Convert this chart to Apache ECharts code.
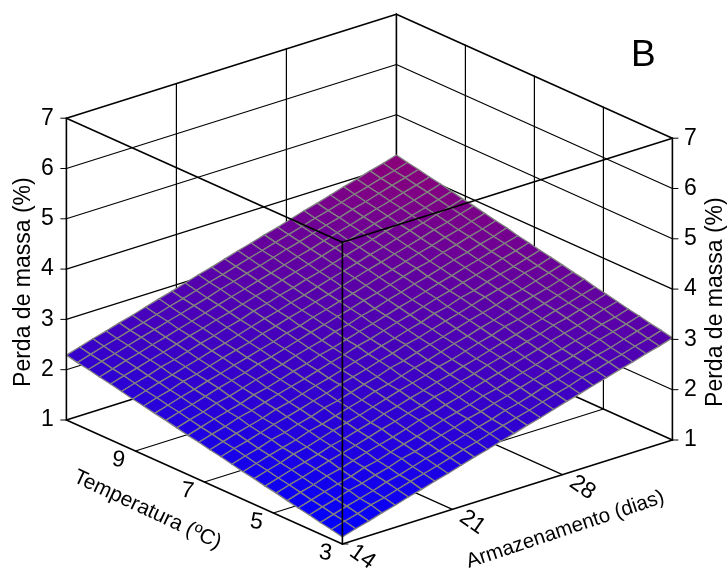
<!DOCTYPE html>
<html>
<head>
<meta charset="utf-8">
<style>html,body{margin:0;padding:0;background:#fff}#c{width:728px;height:575px}</style>
<script src="https://cdn.jsdelivr.net/npm/echarts@6/dist/echarts.min.js"></script>
</head>
<body>
<div id="c"></div>
<script>
// tick labels
const tempTicks = [3, 5, 7, 9];
const dayTicks = [14, 21, 28];
const massTicks = [1, 2, 3, 4, 5, 6, 7];
// axis ranges
const tempRange = [3, 11];
const dayRange = [14, 35];
// mesh positions
const tempGrid = [3,3.32,3.64,3.96,4.28,4.6,4.92,5.24,5.56,5.88,6.2,6.52,6.84,7.16,7.48,7.8,8.12,8.44,8.76,9.08,9.4,9.72,10.04,10.36,10.68,11];
const dayGrid = [14,14.84,15.68,16.52,17.36,18.2,19.04,19.88,20.72,21.56,22.4,23.24,24.08,24.92,25.76,26.6,27.44,28.28,29.12,29.96,30.8,31.64,32.48,33.32,34.16,35];
// mass loss (%) : one row per temperature, one column per storage day
const massLoss = [
[1.14,1.22,1.29,1.37,1.44,1.52,1.59,1.67,1.74,1.82,1.90,1.97,2.05,2.12,2.20,2.27,2.35,2.43,2.50,2.58,2.65,2.73,2.80,2.88,2.95,3.03],
[1.19,1.27,1.34,1.43,1.49,1.57,1.65,1.72,1.79,1.87,1.95,2.02,2.10,2.18,2.25,2.32,2.40,2.48,2.55,2.64,2.70,2.78,2.85,2.93,3.00,3.08],
[1.23,1.31,1.39,1.46,1.53,1.62,1.68,1.76,1.84,1.91,1.99,2.07,2.14,2.21,2.30,2.36,2.44,2.53,2.59,2.67,2.75,2.82,2.89,2.97,3.05,3.12],
[1.28,1.36,1.43,1.52,1.58,1.66,1.73,1.82,1.88,1.96,2.04,2.11,2.20,2.26,2.34,2.41,2.49,2.57,2.65,2.72,2.79,2.87,2.95,3.02,3.09,3.17],
[1.32,1.40,1.48,1.55,1.62,1.71,1.77,1.85,1.93,2.00,2.08,2.16,2.23,2.30,2.39,2.45,2.53,2.61,2.68,2.77,2.83,2.91,2.98,3.07,3.13,3.21],
[1.37,1.45,1.52,1.61,1.67,1.75,1.83,1.90,1.97,2.05,2.14,2.20,2.28,2.35,2.43,2.51,2.58,2.66,2.73,2.81,2.89,2.96,3.03,3.11,3.19,3.26],
[1.42,1.50,1.57,1.65,1.73,1.80,1.87,1.95,2.03,2.10,2.18,2.25,2.34,2.40,2.48,2.55,2.64,2.71,2.78,2.86,2.93,3.02,3.08,3.16,3.23,3.31],
[1.46,1.54,1.62,1.69,1.76,1.85,1.91,1.99,2.06,2.15,2.22,2.30,2.37,2.45,2.52,2.60,2.67,2.75,2.83,2.90,2.98,3.05,3.13,3.20,3.28,3.35],
[1.51,1.59,1.66,1.75,1.81,1.89,1.97,2.04,2.11,2.19,2.27,2.35,2.42,2.49,2.58,2.64,2.72,2.80,2.87,2.96,3.02,3.10,3.17,3.25,3.32,3.41],
[1.55,1.63,1.71,1.78,1.85,1.94,2.00,2.08,2.16,2.23,2.32,2.38,2.46,2.54,2.61,2.69,2.77,2.84,2.92,2.99,3.07,3.15,3.22,3.29,3.37,3.45],
[1.60,1.68,1.75,1.84,1.90,1.98,2.05,2.14,2.20,2.28,2.36,2.43,2.52,2.58,2.66,2.74,2.81,2.89,2.97,3.04,3.11,3.20,3.26,3.34,3.42,3.50],
[1.65,1.73,1.80,1.88,1.96,2.03,2.10,2.18,2.25,2.34,2.41,2.48,2.56,2.63,2.72,2.78,2.86,2.94,3.01,3.09,3.17,3.24,3.31,3.40,3.46,3.55],
[1.69,1.77,1.85,1.92,1.99,2.08,2.14,2.22,2.30,2.37,2.45,2.53,2.60,2.68,2.75,2.83,2.90,2.99,3.05,3.14,3.20,3.29,3.36,3.43,3.51,3.59],
[1.74,1.82,1.89,1.98,2.04,2.12,2.20,2.27,2.34,2.42,2.50,2.57,2.66,2.72,2.80,2.88,2.95,3.03,3.11,3.18,3.26,3.33,3.41,3.49,3.56,3.64],
[1.78,1.86,1.94,2.01,2.08,2.17,2.23,2.31,2.39,2.46,2.55,2.61,2.69,2.77,2.84,2.92,3.00,3.07,3.15,3.23,3.30,3.38,3.45,3.53,3.61,3.68],
[1.83,1.91,1.98,2.07,2.13,2.21,2.29,2.36,2.43,2.52,2.59,2.66,2.75,2.81,2.90,2.96,3.05,3.12,3.20,3.27,3.35,3.43,3.50,3.58,3.65,3.74],
[1.88,1.96,2.03,2.11,2.19,2.26,2.33,2.42,2.48,2.56,2.64,2.72,2.79,2.87,2.94,3.02,3.09,3.17,3.25,3.33,3.39,3.48,3.55,3.63,3.70,3.78],
[1.92,2.00,2.08,2.15,2.23,2.30,2.38,2.45,2.53,2.60,2.69,2.75,2.84,2.91,2.99,3.06,3.14,3.22,3.29,3.37,3.45,3.52,3.60,3.67,3.75,3.83],
[1.97,2.05,2.12,2.21,2.27,2.35,2.43,2.50,2.57,2.66,2.73,2.81,2.88,2.96,3.03,3.11,3.19,3.27,3.34,3.42,3.49,3.57,3.65,3.72,3.80,3.88],
[2.01,2.09,2.17,2.24,2.32,2.39,2.47,2.54,2.62,2.70,2.78,2.85,2.93,3.00,3.08,3.16,3.23,3.31,3.39,3.46,3.54,3.62,3.69,3.77,3.84,3.92],
[2.06,2.14,2.21,2.30,2.36,2.44,2.52,2.59,2.67,2.74,2.83,2.90,2.98,3.05,3.13,3.20,3.28,3.36,3.44,3.51,3.59,3.66,3.74,3.81,3.89,3.97],
[2.11,2.19,2.26,2.34,2.41,2.49,2.57,2.64,2.72,2.79,2.87,2.95,3.02,3.10,3.18,3.25,3.33,3.41,3.48,3.56,3.64,3.71,3.79,3.86,3.94,4.02],
[2.15,2.23,2.31,2.38,2.46,2.53,2.61,2.68,2.76,2.84,2.92,2.99,3.07,3.14,3.22,3.30,3.37,3.45,3.53,3.60,3.68,3.76,3.83,3.91,3.98,4.06],
[2.20,2.28,2.35,2.43,2.51,2.58,2.66,2.73,2.81,2.88,2.97,3.04,3.12,3.19,3.27,3.35,3.42,3.50,3.58,3.65,3.73,3.80,3.88,3.96,4.03,4.11],
[2.24,2.32,2.40,2.47,2.55,2.62,2.70,2.78,2.85,2.93,3.01,3.08,3.16,3.24,3.31,3.39,3.46,3.54,3.62,3.69,3.77,3.85,3.92,4.00,4.07,4.15],
[2.29,2.37,2.45,2.52,2.60,2.67,2.75,2.83,2.90,2.98,3.06,3.13,3.21,3.29,3.36,3.44,3.51,3.59,3.67,3.74,3.82,3.90,3.97,4.05,4.12,4.20]
];

// view of the 3D box: screen position of the front-bottom corner and of one full axis run
const VIEW = { ox: 342.4, oy: 544, tx: -276, ty: -124, dx: 330, dy: -104, zUnit: -50.3 };
const zMin = massTicks[0], zMax = massTicks[massTicks.length - 1];
function project(t, d, z) {
  const a = (t - tempRange[0]) / (tempRange[1] - tempRange[0]);
  const b = (d - dayRange[0]) / (dayRange[1] - dayRange[0]);
  return [VIEW.ox + a * VIEW.tx + b * VIEW.dx, VIEW.oy + a * VIEW.ty + b * VIEW.dy + (z - zMin) * VIEW.zUnit];
}
const T0 = tempRange[0], T1 = tempRange[1], D0 = dayRange[0], D1 = dayRange[1];
const days = dayTicks.slice(1);

// back walls and floor: inner grid lines
const backLines = [];
massTicks.forEach(z => {
  if (z !== zMin && z !== zMax) backLines.push([T1, D0, z, T1, D1, z], [T1, D1, z, T0, D1, z]);
});
days.forEach(d => backLines.push([T1, d, zMin, T1, d, zMax], [T1, d, zMin, T0, d, zMin]));
tempTicks.forEach(t => {
  if (t !== T0) backLines.push([t, D1, zMin, t, D1, zMax], [t, D1, zMin, t, D0, zMin]);
});
// back walls and floor: outline
const backEdges = [
  [T1, D1, zMin, T1, D1, zMax], [T1, D0, zMin, T1, D1, zMin], [T1, D1, zMin, T0, D1, zMin],
  [T1, D0, zMax, T1, D1, zMax], [T1, D1, zMax, T0, D1, zMax]
];

// box edges in front of the surface
const frontLines = [
  [T0, D0, zMin, T0, D0, zMax], [T1, D0, zMin, T1, D0, zMax], [T0, D1, zMin, T0, D1, zMax],
  [T1, D0, zMax, T0, D0, zMax], [T0, D0, zMax, T0, D1, zMax],
  [T1, D0, zMin, T0, D0, zMin], [T0, D0, zMin, T0, D1, zMin]
];

// surface cells, far corner first
const cells = [];
for (let i = tempGrid.length - 2; i >= 0; i--) {
  for (let j = dayGrid.length - 2; j >= 0; j--) cells.push([i, j]);
}
const zLo = massLoss[0][0], zHi = massLoss[massLoss.length - 1][dayGrid.length - 1];
const ramp = ['#0000ff', '#8c0078'];

const lineItem = width => (params, api) => {
  const a = project(api.value(0), api.value(1), api.value(2));
  const b = project(api.value(3), api.value(4), api.value(5));
  const p = api.coord(a), q = api.coord(b);
  return { type: 'line', shape: { x1: p[0], y1: p[1], x2: q[0], y2: q[1] }, style: { stroke: '#000', lineWidth: width, lineCap: 'round' }, silent: true };
};

function surfaceItem(params, api) {
  const i = api.value(0), j = api.value(1);
  const corners = [[i, j], [i + 1, j], [i + 1, j + 1], [i, j + 1]];
  let sum = 0;
  const pts = corners.map(c => {
    const z = massLoss[c[0]][c[1]];
    sum += z;
    return api.coord(project(tempGrid[c[0]], dayGrid[c[1]], z));
  });
  const t = Math.min(1, Math.max(0, (sum / 4 - zLo) / (zHi - zLo)));
  return { type: 'polygon', shape: { points: pts }, style: { fill: echarts.color.lerp(t, ramp), stroke: '#808080', lineWidth: 1.3, lineJoin: 'round' }, silent: true };
}

// tick marks
const ticksData = [];
massTicks.forEach(z => ticksData.push([T1, D0, z, -6, 0], [T0, D1, z, 6, 0]));
ticksData.push([T0, D0, zMin, 6, 0]);
function tickItem(params, api) {
  const p = api.coord(project(api.value(0), api.value(1), api.value(2)));
  return { type: 'line', shape: { x1: p[0], y1: p[1], x2: p[0] + api.value(3), y2: p[1] + api.value(4) }, style: { stroke: '#000', lineWidth: 1 }, silent: true };
}

// text labels: [text, anchor temp, anchor day, anchor z, offset x, offset y, rotation deg, size]
const FONT = '"Liberation Sans", Arial, sans-serif';
const labels = [];
massTicks.forEach(z => {
  labels.push([String(z), T1, D0, z, -19, 0, 0, 23]);
  labels.push([String(z), T0, D1, z, 18, 0, 0, 23]);
});
tempTicks.forEach(t => labels.push([String(t), t, D0, zMin, -17, 9, -8, 23]));
dayTicks.forEach(d => labels.push([String(d), T0, d, zMin, 20, 13, -35, 23]));
labels.push(['Temperatura (ºC)', 7, D0, zMin, -57, 28, -25, 21]);
labels.push(['Armazenamento (dias)', T0, 28, zMin, 3, 55, 18.5, 20.5]);
labels.push(['Perda de massa (%)', T1, D0, 4, -43, 13, 90, 23]);
labels.push(['Perda de massa (%)', T0, D1, 4, 43, 13, 90, 23]);
labels.push(['B', T0, D1, zMax, -29, -82, 0, 37]);
function textItem(params, api) {
  const l = labels[params.dataIndex];
  const p = api.coord(project(l[1], l[2], l[3]));
  return { type: 'text', x: p[0] + l[4], y: p[1] + l[5], rotation: l[6] * Math.PI / 180,
    style: { text: l[0], fill: '#000', font: l[7] + 'px ' + FONT, textAlign: 'center', textVerticalAlign: 'middle' }, silent: true };
}

const chart = echarts.init(document.getElementById('c'), null, { renderer: 'canvas' });
const base = () => ({ type: 'custom', encode: { x: -1, y: -1 }, clip: false, animation: false, silent: true });
chart.setOption({
  animation: false,
  backgroundColor: '#fff',
  grid: { left: 0, right: 0, top: 0, bottom: 0 },
  xAxis: { type: 'value', min: 0, max: 728, show: false },
  yAxis: { type: 'value', min: 0, max: 575, inverse: true, show: false },
  tooltip: { show: false },
  series: [
    Object.assign(base(), { z: 1, renderItem: lineItem(1.2), data: backLines }),
    Object.assign(base(), { z: 1, renderItem: lineItem(1.6), data: backEdges }),
    Object.assign(base(), { z: 2, renderItem: surfaceItem, data: cells }),
    Object.assign(base(), { z: 3, renderItem: lineItem(1.6), data: frontLines }),
    Object.assign(base(), { z: 3, renderItem: tickItem, data: ticksData }),
    Object.assign(base(), { z: 4, renderItem: textItem, data: labels.map((l, i) => [i]) })
  ]
});
</script>
</body>
</html>
